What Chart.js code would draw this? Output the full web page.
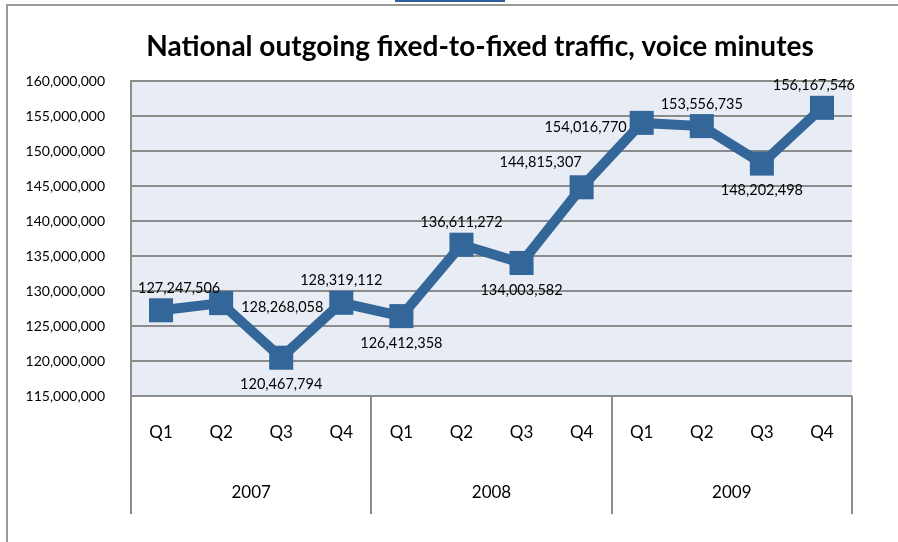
<!DOCTYPE html>
<html>
<head>
<meta charset="utf-8">
<script src="https://cdn.jsdelivr.net/npm/chart.js@4.4.1/dist/chart.umd.min.js"></script>
<style>
  body { margin: 0; background: #fff; }
  #wrap { width: 898px; height: 542px; position: relative; }
</style>
</head>
<body>
<div id="wrap"><canvas id="myChart"></canvas></div>
<script>
// quarterly voice minutes, 2007 - 2009
const quarters = ['Q1', 'Q2', 'Q3', 'Q4', 'Q1', 'Q2', 'Q3', 'Q4', 'Q1', 'Q2', 'Q3', 'Q4'];
const years = ['2007', '2008', '2009'];
const minutes = [127247506, 128268058, 120467794, 128319112,
                 126412358, 136611272, 134003582, 144815307,
                 154016770, 153556735, 148202498, 156167546];
// where each value label sits relative to its point
const labelSpots = ['above', 'right', 'below', 'above', 'below', 'above',
                    'below', 'aboveLeft', 'left', 'above', 'below', 'above'];
const yTicks = { min: 115000000, max: 160000000, step: 5000000 };
const chartTitle = 'National outgoing fixed-to-fixed traffic, voice minutes';

const lineColor = '#336699';
const gridColor = '#8c8c8c';

function fmt(v) {
  return Number(v).toLocaleString('en-US');
}

// light blue plot background, outer frame and the title
const backdrop = {
  id: 'backdrop',
  beforeDraw(chart) {
    const ctx = chart.ctx, a = chart.chartArea;
    ctx.save();
    ctx.fillStyle = '#e8ecf4';
    ctx.fillRect(a.left, a.top, a.right - a.left, a.bottom - a.top);
    ctx.strokeStyle = '#9a9a9a';
    ctx.lineWidth = 2;
    ctx.beginPath();
    ctx.moveTo(7, chart.height);
    ctx.lineTo(7, 5);
    ctx.lineTo(chart.width, 5);
    ctx.stroke();
    ctx.fillStyle = '#2f5f9a';
    ctx.fillRect(395, 0, 110, 2);

    // title sits a bit right of centre, over the plot
    ctx.font = 'bold 28px Lato';
    ctx.fillStyle = '#000';
    ctx.textAlign = 'center';
    ctx.textBaseline = 'middle';
    ctx.fillText(chartTitle, 480, 47);
    ctx.restore();
  }
};

// year group separators under the plot
const yearDividers = {
  id: 'yearDividers',
  afterDraw(chart) {
    const ctx = chart.ctx, x = chart.scales.x, x2 = chart.scales.x2;
    ctx.save();
    ctx.strokeStyle = gridColor;
    ctx.lineWidth = 2;
    for (let k = 0; k <= years.length; k++) {
      const px = Math.round(x.left + (x.right - x.left) * k / years.length);
      ctx.beginPath();
      ctx.moveTo(px, chart.chartArea.bottom);
      ctx.lineTo(px, x2.bottom - 2);
      ctx.stroke();
    }
    ctx.restore();
  }
};

// value labels next to each point
const valueLabels = {
  id: 'valueLabels',
  afterDatasetsDraw(chart) {
    const ctx = chart.ctx, a = chart.chartArea;
    const pts = chart.getDatasetMeta(0).data;
    ctx.save();
    ctx.font = '14.5px Lato';
    ctx.fillStyle = '#000';
    ctx.textBaseline = 'middle';
    ctx.textAlign = 'left';
    pts.forEach((p, i) => {
      const txt = fmt(minutes[i]);
      const w = ctx.measureText(txt).width;
      let cx = p.x, cy = p.y;
      switch (labelSpots[i]) {
        case 'above': cy -= 22; break;
        case 'below': cy += 27; break;
        case 'right': cx += 20 + w / 2; cy += 4; break;
        case 'left': cx -= 15 + w / 2; cy += 4; break;
        case 'aboveLeft': cx -= 41; cy -= 25; break;
      }
      let left = cx - w / 2;
      left = Math.max(left, a.left + 7);
      left = Math.min(left, a.right + 3 - w);
      ctx.fillText(txt, left, cy);
    });
    ctx.restore();
  }
};

const config = {
  type: 'line',
  data: {
    labels: quarters,
    datasets: [{
      label: 'Voice minutes',
      data: minutes,
      borderColor: lineColor,
      backgroundColor: lineColor,
      borderWidth: 10,
      tension: 0,
      pointStyle: 'rect',
      pointRadius: 17,
      pointBorderWidth: 0,
      pointHoverRadius: 17,
      clip: false
    }]
  },
  options: {
    responsive: true,
    maintainAspectRatio: false,
    animation: false,
    layout: { padding: { left: 0, right: 46, top: 81, bottom: 26 } },
    scales: {
      x: {
        type: 'category',
        offset: true,
        weight: 1,
        grid: { display: false },
        border: { display: false },
        ticks: { color: '#000', font: { family: 'Lato', size: 17 }, padding: 18, maxRotation: 0 },
        afterFit(scale) { scale.height = 60; }
      },
      x2: {
        type: 'category',
        position: 'bottom',
        labels: years,
        offset: true,
        weight: 2,
        grid: { display: false },
        border: { display: false },
        ticks: { color: '#000', font: { family: 'Lato', size: 17 }, padding: 18, maxRotation: 0 },
        afterFit(scale) { scale.height = 60; }
      },
      y: {
        min: yTicks.min,
        max: yTicks.max,
        grid: { color: gridColor, lineWidth: 2, drawTicks: false },
        border: { color: gridColor, width: 2 },
        ticks: {
          stepSize: yTicks.step,
          color: '#000',
          font: { family: 'Lato', size: 14 },
          padding: 26,
          callback: function (value) { return fmt(value); }
        },
        afterFit(scale) { scale.width = 131; }
      }
    },
    plugins: {
      legend: { display: false },
      tooltip: { enabled: false },
      title: { display: false }
    }
  },
  plugins: [backdrop, yearDividers, valueLabels]
};

const myChart = new Chart(document.getElementById('myChart'), config);
</script>
</body>
</html>
